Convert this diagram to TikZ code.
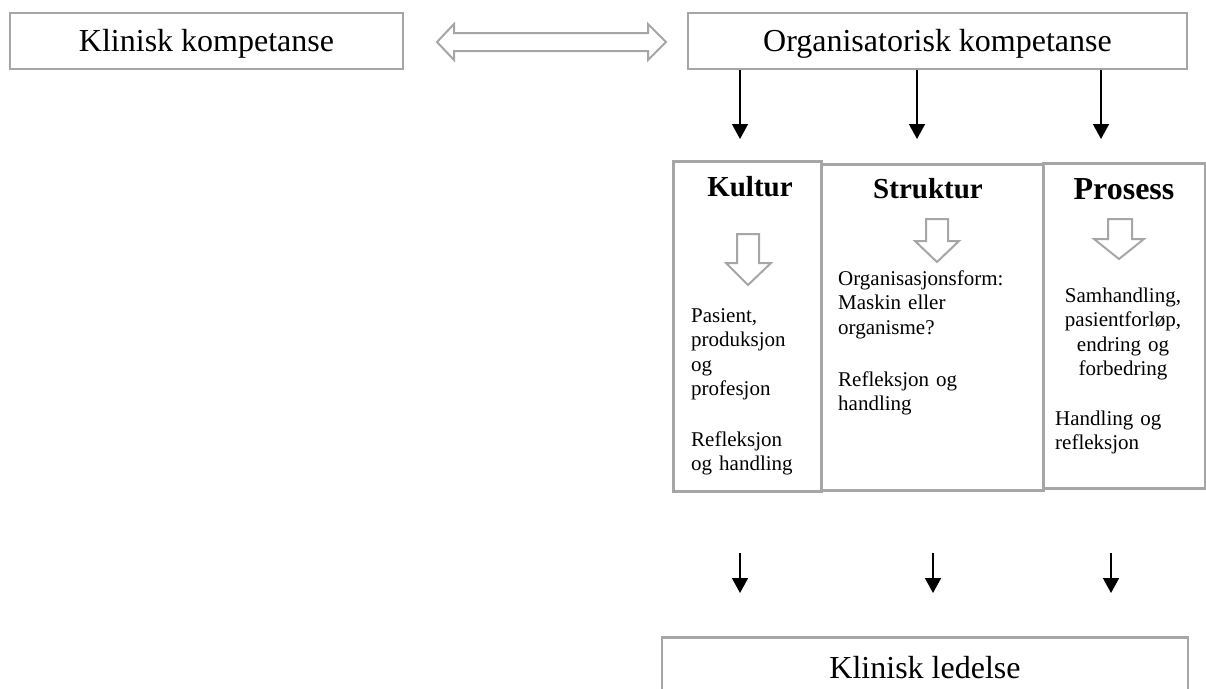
\documentclass[tikz,border=0pt]{standalone}
\usepackage{fontspec}
\setmainfont{Liberation Serif}
\usetikzlibrary{arrows.meta,calc}
\definecolor{boxgray}{HTML}{A6A6A6}
\begin{document}
\begin{tikzpicture}[x=1pt,y=-1pt,
  bigbox/.style={draw=boxgray, line width=2.5pt, inner sep=0pt, text height=21pt, text depth=0pt, font=\fontsize{32}{38}\selectfont},
  colbox/.style={draw=boxgray, line width=2.5pt, inner sep=0pt, anchor=north west},
  headtxt/.style={font=\fontsize{29}{34}\selectfont\bfseries, anchor=base, inner sep=0pt},
  bodytxt/.style={font=\fontsize{21}{24.5}\selectfont, anchor=base west, align=left, inner sep=0pt, text width=180pt},
  bodyctr/.style={font=\fontsize{21}{24.5}\selectfont, anchor=base, align=center, inner sep=0pt, text width=150pt},
  conn/.style={line width=1.5pt, -{Triangle[width=16pt,length=15pt]}},
  hollow/.style={draw=boxgray, line width=2pt, fill=white, line join=miter}]
\useasboundingbox (0,0) rectangle (1206,688);

% top row
\node[bigbox, minimum width=393pt, minimum height=56pt] (kk) at (206.5,41) {Klinisk kompetanse};
\node[bigbox, minimum width=499pt, minimum height=56pt] (ok) at (937.5,41) {Organisatorisk kompetanse};

% double block arrow between them
\draw[hollow] (437,42) -- (454,24) -- (454,33) -- (648,33) -- (648,24) -- (666,42)
  -- (648,60) -- (648,51) -- (454,51) -- (454,60) -- cycle;

% column boxes
\node[colbox, minimum width=148pt, minimum height=330pt] (ku) at (672,160) {};
\node[colbox, minimum width=222pt, minimum height=326pt] (st) at (820,163) {};
\node[colbox, minimum width=162pt, minimum height=325pt] (pr) at (1042,162) {};

% arrows from organisatorisk kompetanse
\coordinate (t1) at (740,139);
\coordinate (t2) at (917,139);
\coordinate (t3) at (1101,139);
\draw[conn] (t1 |- ok.south) -- (t1);
\draw[conn] (t2 |- ok.south) -- (t2);
\draw[conn] (t3 |- ok.south) -- (t3);

% headings
\node[headtxt] (hku) at (750,196) {Kultur};
\node[headtxt] (hst) at (928,198) {Struktur};
\node[headtxt, font=\fontsize{32}{38}\selectfont\bfseries] (hpr) at (1124,199) {Prosess};

% hollow down arrows
\draw[hollow] (737,234) -- (759,234) -- (759,263) -- (771,263) -- (748,285) -- (726,263) -- (737,263) -- cycle;
\draw[hollow] (926,219) -- (948,219) -- (948,241) -- (959,241) -- (937,262) -- (915,241) -- (926,241) -- cycle;
\draw[hollow] (1108,219) -- (1132,219) -- (1132,239) -- (1144,239) -- (1119,259) -- (1094,239) -- (1108,239) -- cycle;

% body texts
\node[bodytxt] (ku1) at (691,322) {Pasient,\\produksjon\\og\\profesjon};
\node[bodytxt] (ku2) at (691,446) {Refleksjon\\og handling};
\node[bodytxt] (st1) at (838,285) {Organisasjonsform:\\Maskin eller\\organisme?};
\node[bodytxt] (st2) at (838,386) {Refleksjon og\\handling};
\node[bodyctr] (pr1) at (1123,302) {Samhandling,\\pasientforløp,\\endring og\\forbedring};
\node[bodytxt] (pr2) at (1055,425) {Handling og\\refleksjon};

% arrows to klinisk ledelse
\coordinate (b1s) at (740,553); \coordinate (b1e) at (740,593);
\coordinate (b2s) at (933,553); \coordinate (b2e) at (933,593);
\coordinate (b3s) at (1111,553); \coordinate (b3e) at (1111,593);
\draw[conn] (b1s) -- (b1e);
\draw[conn] (b2s) -- (b2e);
\draw[conn] (b3s) -- (b3e);

\node[bigbox, minimum width=526pt, minimum height=60pt] (kl) at (925,667.5) {Klinisk ledelse};
\end{tikzpicture}
\end{document}
